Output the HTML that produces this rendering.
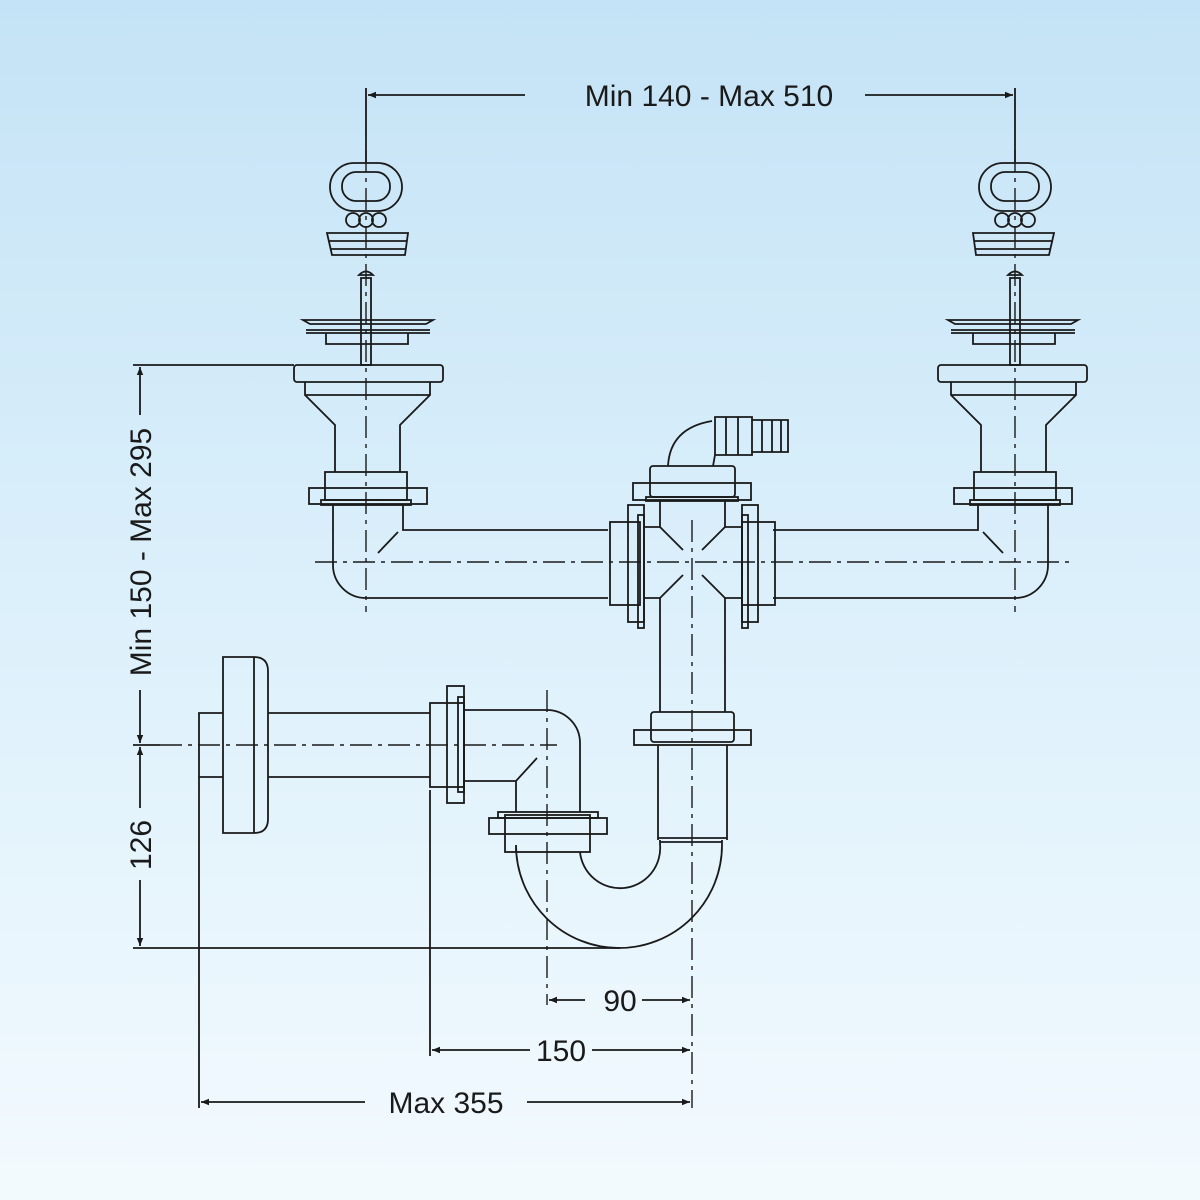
<!DOCTYPE html>
<html><head><meta charset="utf-8"><style>
html,body{margin:0;padding:0}
body{width:1200px;height:1200px;background:linear-gradient(180deg,#c4e3f6 0%,#dcf0fb 50%,#f3fafe 100%)}
svg{display:block}
text{font-family:"Liberation Sans",sans-serif;font-size:30px;fill:#1a1a1a}
</style></head><body>
<svg width="1200" height="1200" viewBox="0 0 1200 1200" xmlns="http://www.w3.org/2000/svg">
<defs>
<marker id="a" viewBox="0 0 10 10" refX="10" refY="5" markerWidth="14" markerHeight="8" markerUnits="userSpaceOnUse" orient="auto-start-reverse"><path d="M0,1 L10,5 L0,9 Z" fill="#1a1a1a"/></marker>
<g id="st" fill="none" stroke="#1a1a1a" stroke-width="1.8">
<line x1="0" y1="88" x2="0" y2="163"/>
<rect x="-36" y="163" width="72" height="48" rx="24"/>
<rect x="-24" y="172" width="48" height="29" rx="14"/>
<circle cx="-13" cy="220" r="7"/><circle cx="0" cy="220" r="7"/><circle cx="13" cy="220" r="7"/>
<path d="M-39 233 L42 233 L39 255 L-34 255 Z M-38 241 L41 241 M-36 249 L40 249"/>
<path d="M-7 275 Q0 268 7 275 Z"/>
<rect x="-5" y="278" width="10" height="87"/>
<path d="M-63 320 L67 320 L60 324 L-56 324 Z M-60 330 L64 330 M-60 333 L64 333"/>
<path d="M-40 333 L-40 344 L42 344 L42 333"/>
<rect x="-72" y="365" width="149" height="17" rx="3"/>
<path d="M-61 382 L-61 395 L-31 425 L-31 472 M64 382 L64 395 L34 425 L34 472 M-61 395 L64 395"/>
<rect x="-41" y="472" width="82" height="28"/>
<rect x="-57" y="488" width="118" height="16"/>
<rect x="-45" y="500" width="90" height="5"/>
<path d="M-33 505 L-33 565 A33 33 0 0 0 0 598 L242 598 M37 505 L37 530 L242 530 M32 532 L12 553"/>
</g>
</defs>
<g fill="none" stroke="#1a1a1a" stroke-width="1.8">
<!-- top dimension -->
<line x1="525" y1="95" x2="368" y2="95" marker-end="url(#a)"/>
<line x1="865" y1="95" x2="1013" y2="95" marker-end="url(#a)"/>
<use href="#st" transform="translate(366,0)"/>
<use href="#st" transform="translate(1015,0) scale(-1,1)"/>
<!-- centerlines -->
<g stroke-width="1.4" stroke-dasharray="22,6,4,6">
<line x1="366" y1="150" x2="366" y2="612"/>
<line x1="1015" y1="150" x2="1015" y2="612"/>
<line x1="315" y1="562" x2="1075" y2="562"/>
<line x1="692" y1="520" x2="692" y2="1108"/>
<line x1="160" y1="745" x2="557" y2="745"/>
<line x1="547" y1="690" x2="547" y2="1005"/>
</g>
<!-- tee -->
<rect x="610" y="522" width="30" height="83"/>
<rect x="628" y="505" width="16" height="117"/>
<rect x="638" y="515" width="6" height="113"/>
<rect x="742" y="522" width="33" height="83"/>
<rect x="742" y="505" width="16" height="117"/>
<rect x="742" y="515" width="6" height="113"/>
<path d="M644 527 L660 527 L660 500 M725 500 L725 527 L742 527 M644 598 L660 598 L660 712 M725 712 L725 598 L742 598"/>
<path d="M660 527 L683 550 M725 527 L702 550 M660 598 L683 575 M725 598 L702 575"/>
<rect x="650" y="466" width="85" height="31" rx="3"/>
<rect x="633" y="483" width="118" height="17"/>
<rect x="646" y="497" width="92" height="4"/>
<path d="M668 466 Q670 428 712 421 M715 455 L713 466"/>
<path d="M715 417 L752 417 L752 455 L715 455 Z M726 417 L726 455 M738 417 L738 455 M752 420 L788 420 L788 452 L752 452 M762 420 L762 452 M772 420 L772 452 M781 420 L781 452"/>
<!-- lower tee nut -->
<rect x="651" y="712" width="83" height="30" rx="3"/>
<rect x="634" y="730" width="117" height="15"/>
<path d="M658 745 L658 840 M727 745 L727 840"/>
<!-- U bend -->
<path d="M516 852 L516 845 A103 103 0 0 0 722 845 L722 840 M580 852 A40 40 0 0 0 660 844 L660 840"/>
<path d="M658 838 L727 838 M660 842 L722 842"/>
<!-- upper trap elbow -->
<rect x="505" y="815" width="85" height="37"/>
<rect x="489" y="818" width="118" height="16"/>
<rect x="498" y="812" width="100" height="6"/>
<path d="M464 710 L547 710 A33 33 0 0 1 580 743 L580 812 M464 781 L516 781 L537 758 M516 781 L516 812"/>
<rect x="430" y="703" width="34" height="84"/>
<rect x="447" y="686" width="17" height="117"/>
<rect x="458" y="697" width="6" height="95"/>
<!-- wall pipe -->
<path d="M268 713 L430 713 M268 777 L430 777"/>
<path d="M223 657 L254 657 Q268 657 268 671 L268 819 Q268 833 254 833 L223 833 Z M254 657 L254 833"/>
<path d="M223 713 L199 713 L199 777 L223 777"/>
<!-- left dimension -->
<line x1="133" y1="365" x2="294" y2="365"/>
<line x1="133" y1="948" x2="620" y2="948"/>
<line x1="133" y1="745" x2="160" y2="745"/>
<line x1="140" y1="415" x2="140" y2="367" marker-end="url(#a)"/>
<line x1="140" y1="690" x2="140" y2="743" marker-end="url(#a)"/>
<line x1="140" y1="808" x2="140" y2="747" marker-end="url(#a)"/>
<line x1="140" y1="880" x2="140" y2="946" marker-end="url(#a)"/>
<!-- bottom dims -->
<line x1="430" y1="790" x2="430" y2="1056"/>
<line x1="199" y1="777" x2="199" y2="1108"/>
<line x1="585" y1="1000" x2="549" y2="1000" marker-end="url(#a)"/>
<line x1="642" y1="1000" x2="690" y2="1000" marker-end="url(#a)"/>
<line x1="530" y1="1050" x2="432" y2="1050" marker-end="url(#a)"/>
<line x1="592" y1="1050" x2="690" y2="1050" marker-end="url(#a)"/>
<line x1="365" y1="1102" x2="201" y2="1102" marker-end="url(#a)"/>
<line x1="527" y1="1102" x2="690" y2="1102" marker-end="url(#a)"/>
</g>
<text x="709" y="106" text-anchor="middle">Min 140 - Max 510</text>
<text x="620" y="1011" text-anchor="middle">90</text>
<text x="561" y="1061" text-anchor="middle">150</text>
<text x="446" y="1113" text-anchor="middle">Max 355</text>
<text transform="translate(151,552) rotate(-90)" text-anchor="middle">Min 150 - Max 295</text>
<text transform="translate(151,845) rotate(-90)" text-anchor="middle">126</text>
</svg>
</body></html>
